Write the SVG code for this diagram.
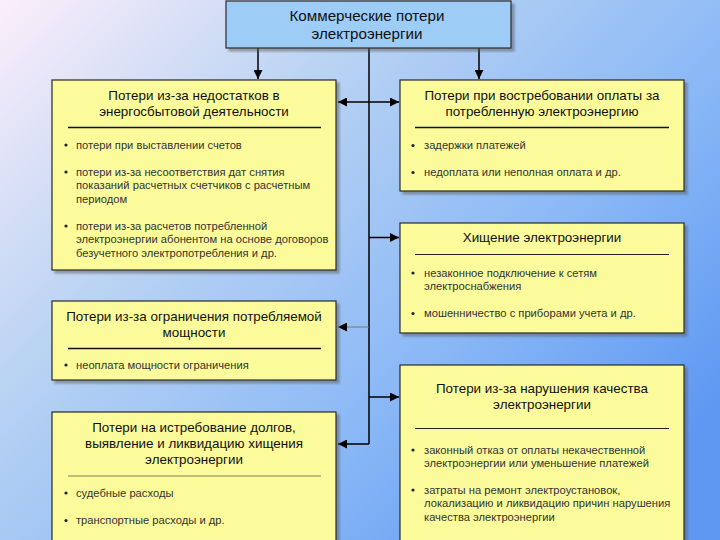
<svg xmlns="http://www.w3.org/2000/svg" width="720" height="540" viewBox="0 0 720 540">
<defs>
<linearGradient id="bg" x1="0" y1="0" x2="1" y2="0.75">
<stop offset="0" stop-color="#fbeefa"/>
<stop offset="0.35" stop-color="#b9d3f3"/>
<stop offset="0.7" stop-color="#8ab8f6"/>
<stop offset="1" stop-color="#5e98f2"/>
</linearGradient>
<marker id="ah" viewBox="0 0 10 10" refX="10" refY="5" markerWidth="9" markerHeight="9" markerUnits="userSpaceOnUse" orient="auto-start-reverse">
<path d="M0,0 L10,5 L0,10 Z" fill="#000"/>
</marker>
<filter id="sh" x="-5%" y="-5%" width="115%" height="115%">
<feDropShadow dx="3" dy="3" stdDeviation="1" flood-color="#555" flood-opacity="0.5"/>
</filter>
</defs>
<style>
.box{fill:#fbfb9c;stroke:#2a2a2a;stroke-width:1.2;filter:url(#sh)}
.top{fill:#9dcdf6;stroke:#2a2a2a;stroke-width:1.2;filter:url(#sh)}
.t{font-family:"Liberation Sans",Arial,sans-serif;font-size:13.4px;fill:#111;text-anchor:middle}
.tt{font-family:"Liberation Sans",Arial,sans-serif;font-size:15.2px;fill:#111;text-anchor:middle}
.b{font-family:"Liberation Sans",Arial,sans-serif;font-size:11.2px;fill:#333}
.sep{stroke:#111;stroke-width:1.5}
.sep2{stroke:#222;stroke-width:1}
.sep3{stroke:#c2bb78;stroke-width:2}
.dot{fill:#222}
.c{stroke:#000;stroke-width:1.5;fill:none}
.cg{stroke:#777;stroke-width:1;fill:none}
</style>
<rect width="720" height="540" fill="url(#bg)"/>

<g id="connectors">
<line class="c" x1="369" y1="48" x2="369" y2="444"/>
<line class="c" x1="258" y1="48" x2="258" y2="79" marker-end="url(#ah)"/>
<line class="c" x1="479" y1="48" x2="479" y2="79" marker-end="url(#ah)"/>
<line class="c" x1="338" y1="102" x2="399" y2="102" marker-start="url(#ah)" marker-end="url(#ah)"/>
<line class="c" x1="369" y1="237.5" x2="399" y2="237.5" marker-end="url(#ah)"/>
<line class="cg" x1="369" y1="327" x2="338" y2="327" marker-end="url(#ah)"/>
<line class="c" x1="369" y1="397" x2="399" y2="397" marker-end="url(#ah)"/>
<line class="c" x1="369" y1="444" x2="338" y2="444" marker-end="url(#ah)"/>
</g>

<g id="root">
<rect class="top" x="226" y="1" width="285" height="47"/>
<text class="tt" x="367" y="21">Коммерческие потери</text>
<text class="tt" x="367" y="39">электроэнергии</text>
</g>

<g id="n1">
<rect class="box" x="52" y="80" width="284" height="190"/>
<text class="t" x="194" y="100">Потери из-за недостатков в</text>
<text class="t" x="194" y="116">энергосбытовой деятельности</text>
<line class="sep" x1="68" y1="127.5" x2="321" y2="127.5"/>
<circle class="dot" cx="66" cy="145" r="1.6"/>
<text class="b" x="76" y="148.5">потери при выставлении счетов</text>
<circle class="dot" cx="66" cy="172" r="1.6"/>
<text class="b" x="76" y="175.5">потери из-за несоответствия дат снятия</text>
<text class="b" x="76" y="189">показаний расчетных счетчиков с расчетным</text>
<text class="b" x="76" y="202.5">периодом</text>
<circle class="dot" cx="66" cy="226" r="1.6"/>
<text class="b" x="76" y="229.5">потери из-за расчетов потребленной</text>
<text class="b" x="76" y="243">электроэнергии абонентом на основе договоров</text>
<text class="b" x="76" y="256.5">безучетного электропотребления и др.</text>
</g>

<g id="n2">
<rect class="box" x="400" y="80" width="284" height="111"/>
<text class="t" x="542" y="100">Потери при востребовании оплаты за</text>
<text class="t" x="542" y="116">потребленную электроэнергию</text>
<line class="sep" x1="415" y1="127.5" x2="669" y2="127.5"/>
<circle class="dot" cx="413" cy="145.5" r="1.6"/>
<text class="b" x="424" y="149">задержки платежей</text>
<circle class="dot" cx="413" cy="172.5" r="1.6"/>
<text class="b" x="424" y="176">недоплата или неполная оплата и др.</text>
</g>

<g id="n3">
<rect class="box" x="400" y="223" width="284" height="110"/>
<text class="t" x="542" y="242">Хищение электроэнергии</text>
<line class="sep2" x1="415" y1="254.5" x2="669" y2="254.5"/>
<circle class="dot" cx="413" cy="273" r="1.6"/>
<text class="b" x="424" y="276.5">незаконное подключение к сетям</text>
<text class="b" x="424" y="290">электроснабжения</text>
<circle class="dot" cx="413" cy="313.5" r="1.6"/>
<text class="b" x="424" y="317">мошенничество с приборами учета и др.</text>
</g>

<g id="n4">
<rect class="box" x="52" y="301" width="284" height="79"/>
<text class="t" x="194" y="320.5">Потери из-за ограничения потребляемой</text>
<text class="t" x="194" y="337">мощности</text>
<line class="sep" x1="68" y1="348.5" x2="321" y2="348.5"/>
<circle class="dot" cx="66" cy="365" r="1.6"/>
<text class="b" x="76" y="368.5">неоплата мощности ограничения</text>
</g>

<g id="n5">
<rect class="box" x="400" y="365" width="284" height="180"/>
<text class="t" x="542" y="393">Потери из-за нарушения качества</text>
<text class="t" x="542" y="409">электроэнергии</text>
<line class="sep2" x1="415" y1="428.5" x2="669" y2="428.5"/>
<circle class="dot" cx="413" cy="450" r="1.6"/>
<text class="b" x="424" y="453.5">законный отказ от оплаты некачественной</text>
<text class="b" x="424" y="467">электроэнергии или уменьшение платежей</text>
<circle class="dot" cx="413" cy="490" r="1.6"/>
<text class="b" x="424" y="493.5">затраты на ремонт электроустановок,</text>
<text class="b" x="424" y="507">локализацию и ликвидацию причин нарушения</text>
<text class="b" x="424" y="520.5">качества электроэнергии</text>
</g>

<g id="n6">
<rect class="box" x="52" y="412" width="284" height="133"/>
<text class="t" x="194" y="432">Потери на истребование долгов,</text>
<text class="t" x="194" y="448">выявление и ликвидацию хищения</text>
<text class="t" x="194" y="464">электроэнергии</text>
<line class="sep3" x1="68" y1="476" x2="321" y2="476"/>
<circle class="dot" cx="66" cy="493" r="1.6"/>
<text class="b" x="76" y="496.5">судебные расходы</text>
<circle class="dot" cx="66" cy="520.5" r="1.6"/>
<text class="b" x="76" y="524">транспортные расходы и др.</text>
</g>
</svg>
